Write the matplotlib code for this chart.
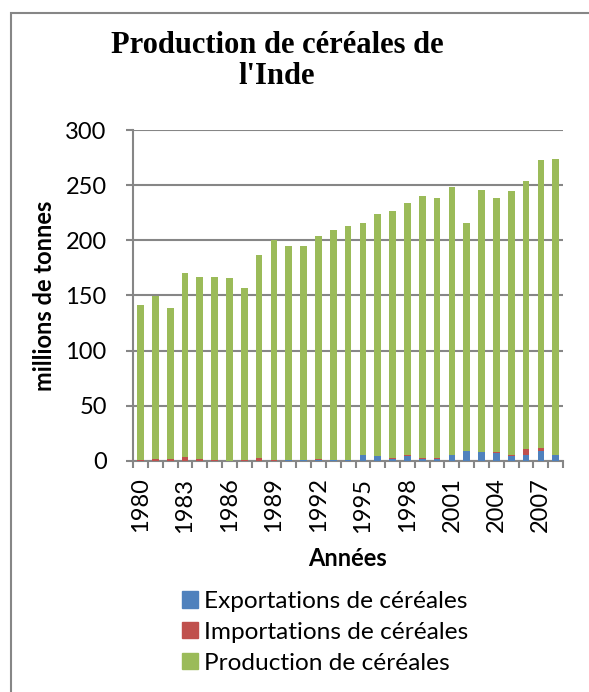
import matplotlib.pyplot as plt
from matplotlib.patches import Rectangle, Patch
import numpy as np

plt.rcParams['font.family'] = ['Lato', 'DejaVu Sans']

# Données (millions de tonnes)
annees = list(range(1980, 2009))
exportations = [0.2, 0.3, 0.3, 0.2, 0.2, 0.2, 0.2, 0.2, 0.2, 0.3,
                0.5, 0.7, 0.4, 0.5, 0.5, 5.5, 4.0, 1.5, 4.0, 1.5,
                2.0, 5.0, 8.8, 8.2, 7.3, 4.8, 5.1, 8.8, 5.4]
importations = [0.5, 1.0, 1.5, 3.0, 1.2, 0.2, 0.1, 0.2, 2.2, 0.3,
                0.2, 0.2, 1.2, 0.5, 0.3, 0.1, 0.6, 1.5, 1.5, 1.5,
                0.3, 0.2, 0.1, 0.3, 0.3, 0.3, 5.8, 3.0, 0.3]
production = [140.5, 148.1, 136.4, 166.8, 165.0, 166.0, 165.2, 156.3, 184.3, 200.0,
              193.8, 193.6, 202.0, 208.7, 212.2, 210.4, 219.4, 224.0, 228.5, 237.0,
              235.7, 242.8, 207.1, 237.3, 230.4, 239.9, 243.1, 261.2, 268.5]

c_exp = '#4F81BD'
c_imp = '#C0504D'
c_prod = '#9BBB59'
gris = '#868686'

fig = plt.figure(figsize=(5.89, 6.92), dpi=100)
ax = fig.add_axes([0.226, 0.334, 0.730, 0.478])

x = np.arange(len(annees))
exp = np.array(exportations)
imp = np.array(importations)
prod = np.array(production)
w = 0.45
ax.bar(x, exp, w, color=c_exp, zorder=3)
ax.bar(x, imp, w, bottom=exp, color=c_imp, zorder=3)
ax.bar(x, prod, w, bottom=exp + imp, color=c_prod, zorder=3)

ax.set_xlim(-0.5, len(annees) - 0.5)
ax.set_ylim(0, 300)
ax.set_yticks(range(0, 301, 50))
ax.grid(axis='y', color=gris, linewidth=1.5, zorder=0)

# étiquettes tous les 3 ans, graduations entre les catégories
ax.set_xticks(x[::3])
ax.set_xticklabels([str(a) for a in annees[::3]], rotation=90)
ax.set_xticks(np.arange(-0.5, len(annees), 1), minor=True)
ax.tick_params(axis='x', which='major', length=0, pad=12, labelsize=17)
ax.tick_params(axis='x', which='minor', length=5, width=1.5, color=gris)
ax.tick_params(axis='y', length=5, width=1.5, color=gris, pad=14, labelsize=17)

for s in ['top', 'right']:
    ax.spines[s].set_visible(False)
for s in ['left', 'bottom']:
    ax.spines[s].set_color(gris)
    ax.spines[s].set_linewidth(1.5)

# titres des axes
fig.text(347 / 589, 1 - 558 / 692, 'Années', ha='center', va='center',
         fontsize=17, fontweight='bold')
fig.text(45 / 589, 1 - 296 / 692, 'millions de tonnes', ha='center', va='center',
         rotation=90, fontsize=17, fontweight='bold')

fig.text(0.47, 0.955, "Production de céréales de\nl'Inde", ha='center', va='top',
         fontsize=22, fontweight='bold', family='Liberation Serif', linespacing=1.08)

handles = [Patch(color=c_exp), Patch(color=c_imp), Patch(color=c_prod)]
labels = ['Exportations de céréales', 'Importations de céréales', 'Production de céréales']
fig.legend(handles, labels, loc='upper left', bbox_to_anchor=(182 / 589, 1 - 591 / 692),
           bbox_transform=fig.transFigure, frameon=False, fontsize=17.6,
           borderpad=0, borderaxespad=0,
           handlelength=0.66, handleheight=0.66, handletextpad=0.25, labelspacing=0.4)

# cadre du graphique
fig.patches.append(Rectangle((11 / 589, -0.1), 1.2, 1 - 13 / 692 + 0.1,
                             transform=fig.transFigure, fill=False,
                             edgecolor=gris, linewidth=1.5))

fig.savefig('out.png', dpi=100)
